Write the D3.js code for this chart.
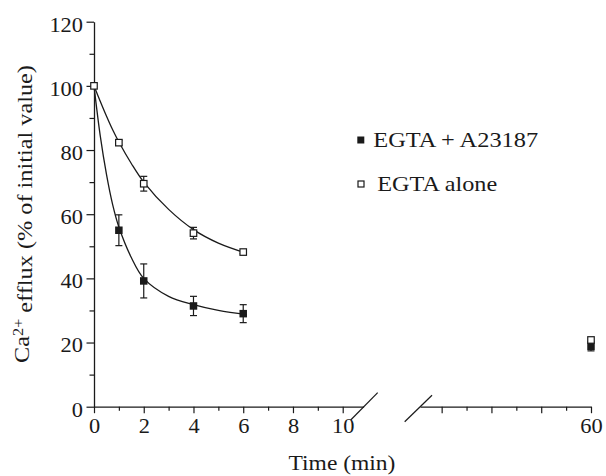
<!DOCTYPE html>
<html><head><meta charset="utf-8">
<script src="https://cdn.jsdelivr.net/npm/d3@7"></script>
<style>
body{margin:0;background:#fff}
text{font-family:"Liberation Serif","Times New Roman",serif;fill:#1a1a1a}
</style>
</head><body>
<svg id="c" width="606" height="476"></svg>
<script>
// ---- data ----
const yTicks = [0, 20, 40, 60, 80, 100, 120];
const yMinorTicks = [10, 30, 50, 70, 90, 110];
const xTicksLeft = [0, 2, 4, 6, 8, 10];
const xMinorLeft = [1, 3, 5, 7, 9];
const xTicksRight = [54, 56, 58, 60];
const xMinorRight = [55, 57, 59];
const xLabelsRight = [60];
const seriesNames = ["EGTA + A23187", "EGTA alone"];

const timeA23187 = [1, 2, 4, 6, 60];
const valA23187  = [55.0, 39.2, 31.4, 29.0, 18.8];
const errA23187  = [4.8, 5.3, 3.0, 2.8, 1.4];

const timeAlone = [0, 1, 2, 4, 6, 60];
const valAlone  = [100, 82.3, 69.5, 54.1, 48.2, 20.8];
const errAlone  = [0, 0.8, 2.3, 1.8, 0.5, 0];

// fitted curves
const fitTime    = [0, 0.25, 0.5, 0.75, 1, 1.5, 2, 3, 4, 5, 6.15];
const fitA23187  = [100, 84.5, 72.5, 63.0, 56.0, 46.5, 40.0, 34.4, 31.8, 30.0, 28.7];
const fitAlone   = [100, 95.2, 90.6, 86.3, 82.5, 75.8, 70.0, 61.5, 55.2, 51.0, 47.8];

// ---- layout ----
const svg = d3.select("#c");
const ink = "#1a1a1a";
const xL = d3.scaleLinear().domain([0, 10.84]).range([94, 363.6]);
const xR = d3.scaleLinear().domain([53.13, 60]).range([420, 591]);
const X = t => (t < 30 ? xL(t) : xR(t));
const y = d3.scaleLinear().domain([0, 120]).range([406.7, 21.7]);
const y0 = y(0);

function stretch(sel, factor, target) {
  sel.each(function () {
    const w = this.getComputedTextLength();
    const s = target ? target / w : factor;
    const t = d3.select(this);
    const prev = t.attr("transform") || "";
    const x = +t.attr("x") || 0, yy = +t.attr("y") || 0;
    t.attr("transform", prev + ` translate(${x},${yy}) scale(${s},1) translate(${-x},${-yy})`);
  });
}

function styleAxis(g) {
  g.selectAll("path.domain").attr("stroke", ink).attr("stroke-width", 1.3);
  g.selectAll(".tick line").attr("stroke", ink).attr("stroke-width", 1.2);
  g.selectAll("text").attr("font-family", null).style("font-size", "20px").attr("fill", ink);
}

// Y axis
const gy = svg.append("g").attr("transform", "translate(94,0)")
  .call(d3.axisLeft(y).tickValues(yTicks).tickSize(7.5).tickSizeOuter(0).tickPadding(3.5));
styleAxis(gy);
gy.selectAll("text").attr("dy", "0.47em");
stretch(gy.selectAll("text"), 1.12);
const gym = svg.append("g").attr("transform", "translate(94,0)")
  .call(d3.axisLeft(y).tickValues(yMinorTicks).tickSize(4.5).tickSizeOuter(0).tickFormat(""));
styleAxis(gym);
gym.select("path.domain").remove();

// X axis left segment
const gxl = svg.append("g").attr("transform", `translate(0,${y0})`)
  .call(d3.axisBottom(xL).tickValues(xTicksLeft).tickSize(6.5).tickSizeOuter(0).tickPadding(5.5));
styleAxis(gxl);
stretch(gxl.selectAll("text"), 1.12);
const gxlm = svg.append("g").attr("transform", `translate(0,${y0})`)
  .call(d3.axisBottom(xL).tickValues(xMinorLeft).tickSize(4).tickSizeOuter(0).tickFormat(""));
styleAxis(gxlm);
gxlm.select("path.domain").remove();

// X axis right segment
const gxr = svg.append("g").attr("transform", `translate(0,${y0})`)
  .call(d3.axisBottom(xR).tickValues(xTicksRight).tickSize(6.5).tickSizeOuter(0).tickPadding(5.5)
    .tickFormat(d => xLabelsRight.includes(d) ? d : ""));
styleAxis(gxr);
stretch(gxr.selectAll("text"), 1.12);
const gxrm = svg.append("g").attr("transform", `translate(0,${y0})`)
  .call(d3.axisBottom(xR).tickValues(xMinorRight).tickSize(4).tickSizeOuter(0).tickFormat(""));
styleAxis(gxrm);
gxrm.select("path.domain").remove();

// break marks
const bx1 = xL.range()[1], bx2 = xR.range()[0];
svg.append("line").attr("x1", bx1 - 12.9).attr("y1", y0 + 13.3).attr("x2", bx1 + 14.1).attr("y2", y0 - 14)
  .attr("stroke", ink).attr("stroke-width", 1.2);
svg.append("line").attr("x1", bx2 - 15.3).attr("y1", y0 + 15).attr("x2", bx2 + 12).attr("y2", y0 - 11.4)
  .attr("stroke", ink).attr("stroke-width", 1.2);

// axis titles
const xt = svg.append("text").attr("x", 342).attr("y", 470.5).attr("text-anchor", "middle")
  .style("font-size", "22px").text("Time (min)");
stretch(xt, 1, 107);

const yt = svg.append("text").attr("text-anchor", "middle").style("font-size", "21px")
  .attr("transform", "translate(29,214) rotate(-90)");
yt.append("tspan").text("Ca");
yt.append("tspan").attr("dy", "-0.42em").style("font-size", "14px").text("2+");
yt.append("tspan").attr("dy", "0.42em").text(" efflux (% of initial value)");
(function () {
  const w = yt.node().getComputedTextLength();
  yt.attr("transform", `translate(29,214) rotate(-90) scale(${298 / w},1)`);
})();

// fitted curves
const line = d3.line().x(d => xL(d[0])).y(d => y(d[1])).curve(d3.curveCatmullRom.alpha(0.5));
[fitA23187, fitAlone].forEach(vals => {
  svg.append("path").attr("d", line(fitTime.map((t, i) => [t, vals[i]])))
    .attr("fill", "none").attr("stroke", ink).attr("stroke-width", 1.3);
});

// error bars
function errorBars(times, vals, errs) {
  times.forEach((t, i) => {
    const e = errs[i];
    if (!e) return;
    const cx = X(t), ya = y(vals[i] + e), yb = y(vals[i] - e);
    const g = svg.append("g").attr("stroke", ink).attr("stroke-width", 1.2);
    g.append("line").attr("x1", cx).attr("x2", cx).attr("y1", ya).attr("y2", yb);
    g.append("line").attr("x1", cx - 3.5).attr("x2", cx + 3.5).attr("y1", ya).attr("y2", ya);
    g.append("line").attr("x1", cx - 3.5).attr("x2", cx + 3.5).attr("y1", yb).attr("y2", yb);
  });
}
errorBars(timeA23187, valA23187, errA23187);
errorBars(timeAlone, valAlone, errAlone);

// markers
const sF = 7.5, sO = 6.5;
svg.append("g").selectAll("rect").data(timeA23187.map((t, i) => [t, valA23187[i]])).join("rect")
  .attr("x", d => X(d[0]) - sF / 2).attr("y", d => y(d[1]) - sF / 2)
  .attr("width", sF).attr("height", sF).attr("fill", ink);
svg.append("g").selectAll("rect").data(timeAlone.map((t, i) => [t, valAlone[i]])).join("rect")
  .attr("x", d => X(d[0]) - sO / 2).attr("y", d => y(d[1]) - sO / 2)
  .attr("width", sO).attr("height", sO).attr("fill", "#fff").attr("stroke", ink).attr("stroke-width", 1.2);

// legend
svg.append("rect").attr("x", 357.3).attr("y", 136.5).attr("width", 7).attr("height", 7).attr("fill", ink);
const l1 = svg.append("text").attr("x", 373.3).attr("y", 146.7).style("font-size", "22px").text(seriesNames[0]);
stretch(l1, 1, 165);
svg.append("rect").attr("x", 358).attr("y", 181).attr("width", 6).attr("height", 6)
  .attr("fill", "#fff").attr("stroke", ink).attr("stroke-width", 1.2);
const l2 = svg.append("text").attr("x", 377.3).attr("y", 191).style("font-size", "22px").text(seriesNames[1]);
stretch(l2, 1, 120);
</script>
</body></html>
